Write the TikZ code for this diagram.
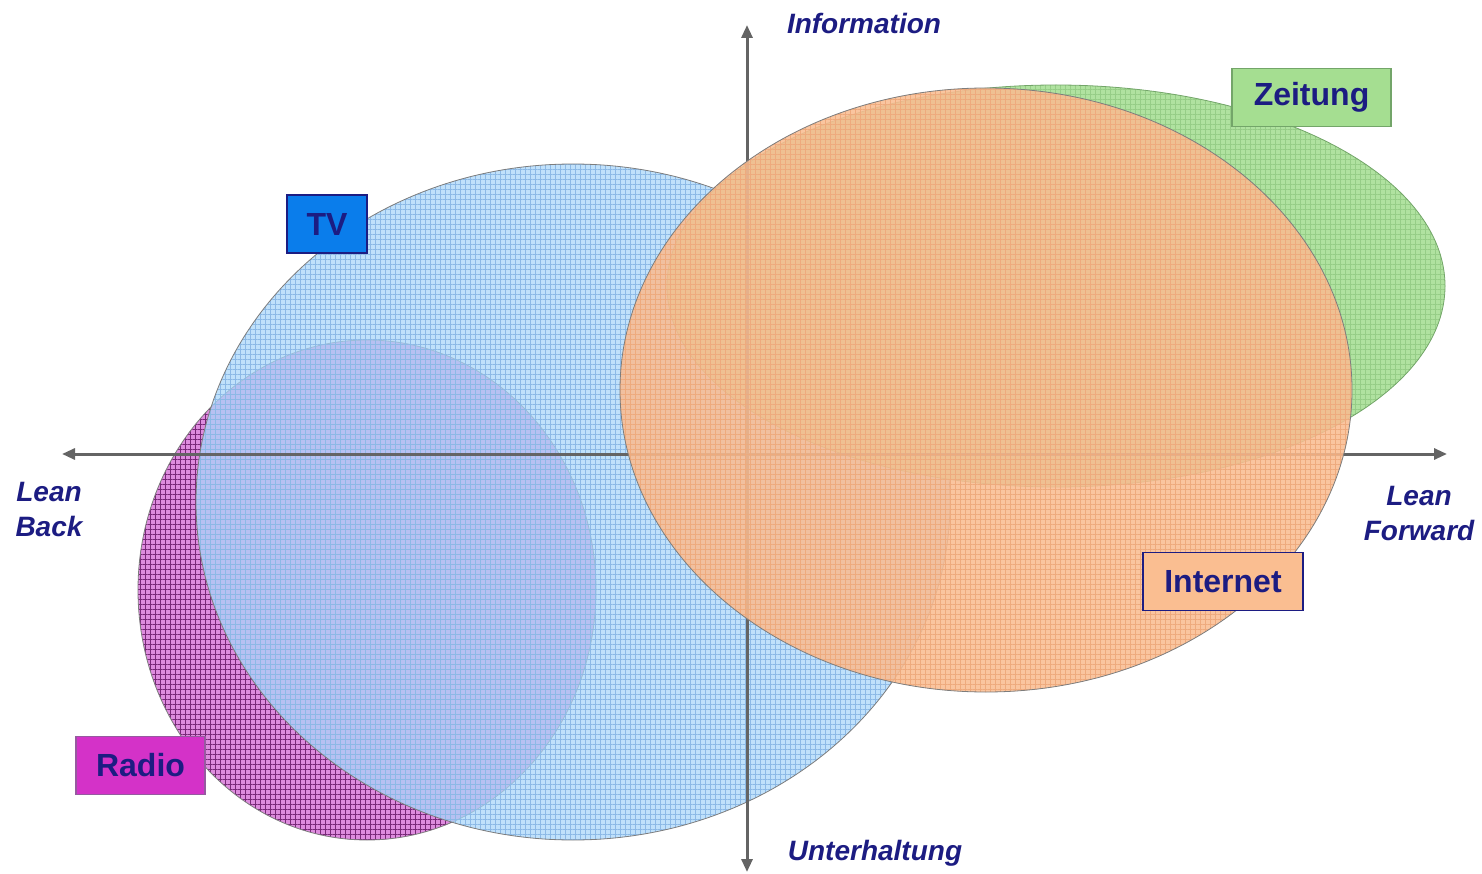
\documentclass[tikz,border=0pt]{standalone}
\usepackage{fontspec}
\setmainfont{Liberation Sans}
\usetikzlibrary{arrows.meta,patterns.meta}
\definecolor{navy}{RGB}{28,28,130}
\definecolor{axisgray}{RGB}{100,100,100}
\definecolor{edgegray}{RGB}{125,125,125}
\definecolor{radiofill}{RGB}{222,140,222}
\definecolor{radioline}{RGB}{120,40,120}
\definecolor{tvfill}{RGB}{168,214,250}
\definecolor{tvline}{RGB}{140,185,230}
\definecolor{zfill}{RGB}{176,226,160}
\definecolor{zline}{RGB}{150,205,135}
\definecolor{ifill}{RGB}{249,188,145}
\definecolor{iline}{RGB}{238,170,125}
\definecolor{tvbox}{RGB}{10,125,235}
\definecolor{zbox}{RGB}{165,222,145}
\definecolor{zboxedge}{RGB}{115,165,105}
\definecolor{ibox}{RGB}{250,190,145}
\definecolor{rbox}{RGB}{212,50,200}
\definecolor{rboxedge}{RGB}{150,90,160}
\tikzset{
  axislabel/.style={text=navy, font=\fontsize{28}{35}\selectfont\bfseries\itshape, align=center},
  boxlabel/.style={text=navy, font=\fontsize{32}{36}\selectfont\bfseries, draw, line width=1.6pt, minimum height=58pt, inner sep=0pt},
  axisline/.style={draw=axisgray, line width=3pt, {Triangle[length=13pt,width=11pt]}-{Triangle[length=13pt,width=11pt]}},
  ell/.style={draw=edgegray, line width=0.8pt},
}
\begin{document}
\begin{tikzpicture}[x=1pt,y=-1pt]
\useasboundingbox (0,0) rectangle (1482,874);
% Radio
\coordinate (rc) at (367,590);
\fill[radiofill] (rc) ellipse [x radius=229, y radius=250];
\path[pattern={Hatch[angle=0,distance=5pt,line width=0.7pt]}, pattern color=radioline] (rc) ellipse [x radius=229, y radius=250];
\draw[ell] (rc) ellipse [x radius=229, y radius=250];
% TV
\coordinate (tc) at (573,502);
\fill[tvfill, fill opacity=0.72] (tc) ellipse [x radius=377, y radius=338];
\path[pattern={Hatch[angle=0,distance=5pt,line width=0.4pt]}, pattern color=tvline, fill opacity=0.8] (tc) ellipse [x radius=377, y radius=338];
\draw[ell] (tc) ellipse [x radius=377, y radius=338];
% Zeitung
\coordinate (zc) at (1056,286);
\fill[zfill] (zc) ellipse [x radius=389, y radius=201];
\path[pattern={Hatch[angle=0,distance=5pt,line width=0.4pt]}, pattern color=zline] (zc) ellipse [x radius=389, y radius=201];
\draw[ell, draw=zboxedge] (zc) ellipse [x radius=389, y radius=201];
% axes
\coordinate (xl) at (62,454);
\coordinate (xr) at (1447,454);
\coordinate (yt) at (747,25);
\coordinate (yb) at (747,872);
\draw[axisline] (xl) -- (xr);
\draw[axisline] (yb) -- (yt);
% Internet
\coordinate (ic) at (986,390);
\fill[ifill, fill opacity=0.87] (ic) ellipse [x radius=366, y radius=302];
\path[pattern={Hatch[angle=0,distance=5pt,line width=0.4pt]}, pattern color=iline, fill opacity=0.6] (ic) ellipse [x radius=366, y radius=302];
\draw[ell] (ic) ellipse [x radius=366, y radius=302];
% axis labels
\node[axislabel] (info) at (864,23) {Information};
\node[axislabel] (unter) at (875,853) {Unterhaltung};
\node[axislabel] (lb) at (49,510) {Lean\\Back};
\node[axislabel] (lf) at (1419,514) {Lean\\Forward};
% boxes
\node[boxlabel, fill=tvbox, draw=navy, minimum width=80pt] (tv) at (327,224) {TV};
\node[boxlabel, fill=zbox, draw=zboxedge, minimum width=159pt] (zt) at (1311.5,97.5) {Zeitung};
\node[boxlabel, fill=ibox, draw=navy, minimum width=160pt] (inet) at (1223,581.5) {Internet};
\node[boxlabel, fill=rbox, draw=rboxedge, minimum width=129pt] (radio) at (140.5,765.5) {Radio};
\end{tikzpicture}
\end{document}
